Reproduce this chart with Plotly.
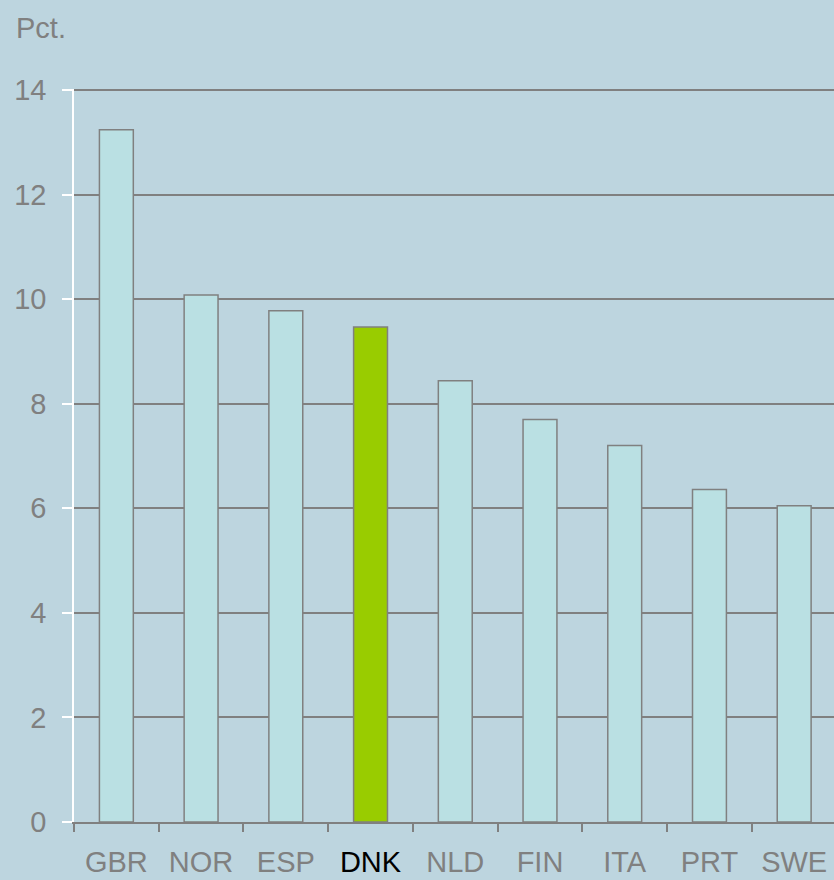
import plotly.graph_objects as go

categories = ["GBR", "NOR", "ESP", "DNK", "NLD", "FIN", "ITA", "PRT", "SWE"]
values = [13.24, 10.08, 9.78, 9.47, 8.44, 7.70, 7.20, 6.36, 6.05]
highlight = "DNK"
y_ticks = [0, 2, 4, 6, 8, 10, 12, 14]

bar_colors = ["#99CC00" if c == highlight else "#BAE0E3" for c in categories]
tick_text = [f"<span style='color:#000000'>{c}</span>" if c == highlight else c for c in categories]

fig = go.Figure(go.Bar(
    x=categories, y=values,
    marker=dict(color=bar_colors, line=dict(color="#808080", width=1.5)),
    width=0.4, hoverinfo="skip",
))

fig.update_layout(
    width=834, height=880,
    margin=dict(l=74, r=0, t=89, b=58),
    paper_bgcolor="#BDD5DF", plot_bgcolor="#BDD5DF",
    font=dict(family="Liberation Sans, Arial, sans-serif", size=29, color="#808080"),
    showlegend=False,
    bargap=0.6,
    annotations=[dict(text="Pct.", x=-60/760, y=1 + (89 - 28) / 733, xref="paper", yref="paper",
                      showarrow=False, xanchor="left", yanchor="middle",
                      font=dict(size=29, color="#808080"))],
)

fig.update_xaxes(
    range=[-0.5, 8.47], tickmode="array", tickvals=categories, ticktext=tick_text,
    showline=True, linecolor="#808080", linewidth=1.5,
    ticks="outside", tickson="boundaries", ticklen=8, tickcolor="#808080", tickwidth=1.5,
    showgrid=False, ticklabelstandoff=13,
)
fig.update_yaxes(
    range=[0, 14.02], tickvals=y_ticks,
    showline=True, linecolor="#FFFFFF", linewidth=1.5,
    ticks="outside", ticklen=10, tickcolor="#FFFFFF", tickwidth=1.5,
    showgrid=True, gridcolor="#808080", gridwidth=1.5, zeroline=False,
    ticklabelstandoff=10,
)

fig.write_html("out.html", config={"displayModeBar": False},
               post_script="document.body.style.margin='0';document.body.style.background='#BDD5DF';")
